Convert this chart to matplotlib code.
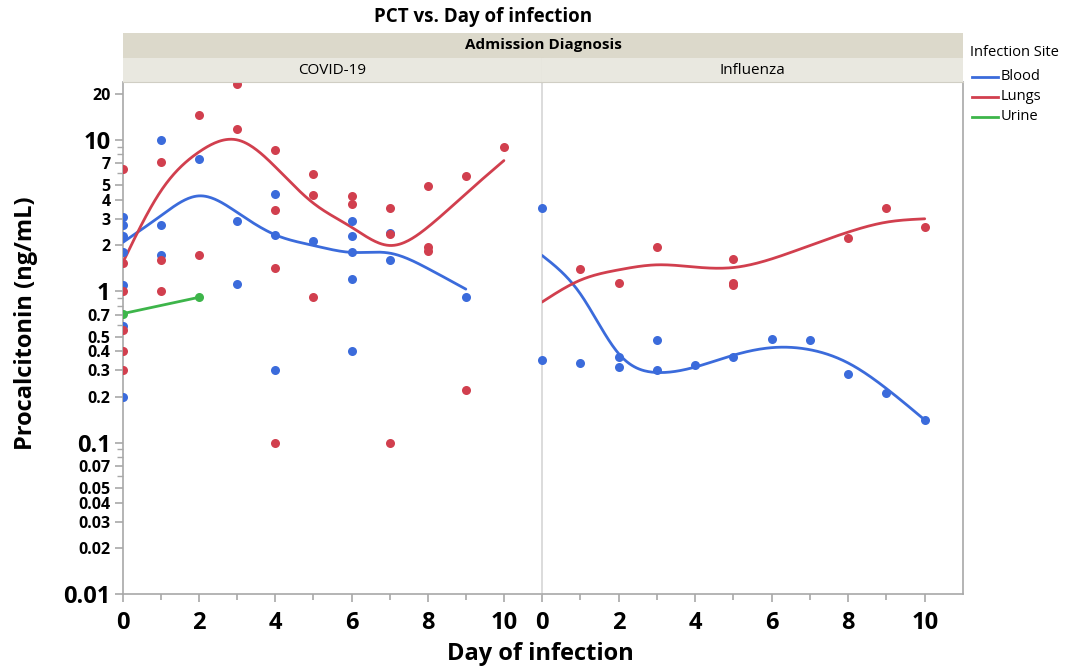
import numpy as np
import matplotlib
matplotlib.use("Agg")
import matplotlib.pyplot as plt
from matplotlib.ticker import FixedLocator, NullFormatter

# ---------------- data ----------------
# COVID-19 observations (day, PCT)
covid_blood_day = [0, 0, 0, 0, 0, 0, 0, 1, 1, 1, 2, 3, 3, 4, 4, 4, 5, 6, 6, 6, 6, 6, 7, 7, 9]
covid_blood_pct = [3.1, 2.75, 2.3, 1.8, 1.09, 0.59, 0.2, 10.0, 2.75, 1.72, 7.5, 2.92, 1.11,
                   4.34, 2.33, 0.303, 2.13, 2.92, 2.32, 1.8, 1.21, 0.405, 2.43, 1.61, 0.91]
covid_lungs_day = [0, 0, 0, 0, 0, 0, 1, 1, 1, 2, 2, 3, 3, 4, 4, 4, 4, 5, 5, 5, 6, 6,
                   7, 7, 7, 8, 8, 8, 9, 9, 10]
covid_lungs_pct = [6.35, 1.53, 1.0, 0.557, 0.405, 0.303, 7.16, 1.61, 1.0, 14.6, 1.72, 23.3, 11.7,
                   8.6, 3.44, 1.43, 0.1, 5.94, 4.32, 0.91, 4.23, 3.75,
                   3.53, 2.38, 0.1, 4.95, 1.95, 1.83, 5.76, 0.222, 8.95]
covid_urine_day = [0, 2]
covid_urine_pct = [0.71, 0.91]

# Influenza observations
flu_blood_day = [0, 0, 1, 2, 2, 3, 3, 4, 5, 6, 7, 8, 9, 10]
flu_blood_pct = [3.56, 0.353, 0.334, 0.365, 0.313, 0.473, 0.303, 0.324, 0.365, 0.483, 0.473,
                 0.282, 0.212, 0.141]
flu_lungs_day = [1, 2, 3, 5, 5, 5, 8, 9, 10]
flu_lungs_pct = [1.39, 1.13, 1.95, 1.63, 1.13, 1.09, 2.24, 3.51, 2.66]

# Smoother curve values read at integer days
covid_blood_fit_day = [0, 1, 2, 3, 4, 5, 6, 7, 8, 9]
covid_blood_fit = [2.1, 3.15, 4.25, 3.3, 2.35, 2.0, 1.8, 1.78, 1.41, 1.03]
covid_lungs_fit_day = [0, 1, 2, 3, 4, 5, 6, 7, 8, 9, 10]
covid_lungs_fit = [1.55, 4.6, 8.3, 9.95, 6.6, 3.8, 2.64, 2.0, 2.64, 4.39, 7.27]
flu_blood_fit_day = [0, 1, 2, 3, 4, 5, 6, 7, 8, 9, 10]
flu_blood_fit = [1.72, 0.96, 0.387, 0.29, 0.315, 0.377, 0.423, 0.41, 0.335, 0.227, 0.141]
flu_lungs_fit_day = [0, 1, 2, 3, 4, 5, 6, 7, 8, 9, 10]
flu_lungs_fit = [0.846, 1.18, 1.38, 1.49, 1.44, 1.43, 1.63, 2.0, 2.45, 2.85, 3.0]

site_names = ["Blood", "Lungs", "Urine"]
site_colors = ["#3b6bdb", "#d13f4e", "#3db54a"]

y_major = [0.01, 0.02, 0.03, 0.04, 0.05, 0.07, 0.1, 0.2, 0.3, 0.4, 0.5, 0.7, 1, 2, 3, 4, 5, 7, 10, 20]
y_labels = ["0.01", "0.02", "0.03", "0.04", "0.05", "0.07", "0.1", "0.2", "0.3", "0.4", "0.5",
            "0.7", "1", "2", "3", "4", "5", "7", "10", "20"]
big_labels = {"0.01", "0.1", "1", "10"}


def natural_spline(xk, yk, n=300):
    xk = np.asarray(xk, float)
    yk = np.asarray(yk, float)
    m = len(xk)
    h = np.diff(xk)
    A = np.zeros((m, m))
    b = np.zeros(m)
    A[0, 0] = 1
    A[-1, -1] = 1
    for i in range(1, m - 1):
        A[i, i - 1] = h[i - 1]
        A[i, i] = 2 * (h[i - 1] + h[i])
        A[i, i + 1] = h[i]
        b[i] = 6 * ((yk[i + 1] - yk[i]) / h[i] - (yk[i] - yk[i - 1]) / h[i - 1])
    M = np.linalg.solve(A, b)
    xs = np.linspace(xk[0], xk[-1], n)
    idx = np.clip(np.searchsorted(xk, xs) - 1, 0, m - 2)
    x0, x1 = xk[idx], xk[idx + 1]
    hh = x1 - x0
    t0 = x1 - xs
    t1 = xs - x0
    ys = (M[idx] * t0 ** 3 / (6 * hh) + M[idx + 1] * t1 ** 3 / (6 * hh)
          + (yk[idx] / hh - M[idx] * hh / 6) * t0 + (yk[idx + 1] / hh - M[idx + 1] * hh / 6) * t1)
    return xs, ys


def smooth(ax, days, vals, color):
    xs, ys = natural_spline(days, np.log10(vals))
    ax.plot(xs, 10 ** ys, color=color, lw=2.0, solid_capstyle="round", zorder=3)


W, H = 1066, 667
fig = plt.figure(figsize=(W / 100, H / 100), dpi=100)
FONT = "Open Sans"
plt.rcParams["font.family"] = [FONT, "DejaVu Sans"]


def fx(px):
    return px / W


def fy(py):
    return 1 - py / H


L, MID, R, TOP, BOT = 123, 542, 963, 82, 594
ax1 = fig.add_axes([fx(L), fy(BOT), fx(MID - L), fy(TOP) - fy(BOT)])
ax2 = fig.add_axes([fx(MID), fy(BOT), fx(R - MID), fy(TOP) - fy(BOT)])

axis_gray = "#a8a8a8"
for i, ax in enumerate((ax1, ax2)):
    ax.set_yscale("log")
    ax.set_ylim(0.01, 24)
    ax.set_xlim(0, 11)
    ax.spines["top"].set_visible(False)
    ax.spines["bottom"].set_color(axis_gray)
    ax.spines["left"].set_color(axis_gray if i == 0 else "#d6d6d6")
    ax.spines["right"].set_color(axis_gray)
    ax.spines["right"].set_visible(i == 1)
    for s in ax.spines.values():
        s.set_linewidth(1.2)
    ax.set_xticks([0, 2, 4, 6, 8, 10])
    ax.set_xticks([1, 3, 5, 7, 9], minor=True)
    ax.set_xticklabels(["0", "2", "4", "6", "8", "10"], fontsize=17, fontweight="bold")
    ax.tick_params(axis="x", which="major", length=6, color=axis_gray, width=1.2, pad=6)
    ax.tick_params(axis="x", which="minor", length=4, color=axis_gray, width=1.2)
    ax.set_facecolor("white")

# y axis on first panel
ax1.yaxis.set_major_locator(FixedLocator(y_major))
minor = [m * 10.0 ** e for e in (-2, -1, 0, 1) for m in range(2, 10)]
ax1.yaxis.set_minor_locator(FixedLocator([v for v in minor if v not in y_major]))
ax1.yaxis.set_minor_formatter(NullFormatter())
ax1.set_yticklabels(y_labels)
for t, lab in zip(ax1.get_yticklabels(), y_labels):
    t.set_fontweight("bold")
    t.set_fontsize(17 if lab in big_labels else 11.5)
ax1.tick_params(axis="y", which="major", length=6, color=axis_gray, width=1.2, pad=3)
ax1.tick_params(axis="y", which="minor", length=4, color=axis_gray, width=1.0)
ax2.tick_params(axis="y", which="both", left=False, labelleft=False)
ax2.yaxis.set_minor_locator(FixedLocator([]))

# data
ms = 6.5
ax1.plot(covid_blood_day, covid_blood_pct, "o", ms=ms, color=site_colors[0], mec="none", zorder=4)
ax1.plot(covid_lungs_day, covid_lungs_pct, "o", ms=ms, color=site_colors[1], mec="none", zorder=4)
smooth(ax1, covid_blood_fit_day, covid_blood_fit, site_colors[0])
smooth(ax1, covid_lungs_fit_day, covid_lungs_fit, site_colors[1])
ax1.plot(covid_urine_day, covid_urine_pct, "-o", ms=ms, lw=2.0, color=site_colors[2], mec="none", zorder=4)

ax2.plot(flu_blood_day, flu_blood_pct, "o", ms=ms, color=site_colors[0], mec="none", zorder=4, clip_on=False)
ax2.plot(flu_lungs_day, flu_lungs_pct, "o", ms=ms, color=site_colors[1], mec="none", zorder=4, clip_on=False)
smooth(ax2, flu_blood_fit_day, flu_blood_fit, site_colors[0])
smooth(ax2, flu_lungs_fit_day, flu_lungs_fit, site_colors[1])

# strips
outer = fig.add_axes([fx(L), fy(58), fx(R - L), fy(33) - fy(58)])
outer.set_facecolor("#dcd9cb")
outer.set_xticks([]); outer.set_yticks([])
for s in outer.spines.values():
    s.set_visible(False)
outer.text(0.5, 0.5, "Admission Diagnosis", ha="center", va="center", fontsize=11,
           fontweight="bold", transform=outer.transAxes)
for (a, b_, name) in ((L, MID, "COVID-19"), (MID, R, "Influenza")):
    st = fig.add_axes([fx(a), fy(82), fx(b_ - a), fy(58) - fy(82)])
    st.set_facecolor("#e9e8e0")
    st.set_xticks([]); st.set_yticks([])
    for s in st.spines.values():
        s.set_visible(False)
    st.spines["right"].set_visible(name == "COVID-19")
    st.spines["right"].set_color("#d0cec4")
    st.spines["bottom"].set_visible(True)
    st.spines["bottom"].set_color("#d0cec4")
    st.text(0.5, 0.5, name, ha="center", va="center", fontsize=11, transform=st.transAxes)

# titles / labels
fig.text(fx(483), fy(17), "PCT vs. Day of infection", ha="center", va="center",
         fontsize=13.5, fontweight="bold")
fig.text(fx(540), fy(654), "Day of infection", ha="center", va="center", fontsize=17,
         fontweight="bold")
fig.text(fx(26), fy(323), "Procalcitonin (ng/mL)", ha="center", va="center", rotation=90,
         fontsize=17, fontweight="bold")

# legend
fig.text(fx(970), fy(52), "Infection Site", ha="left", va="center", fontsize=10.5)
for k, (name, col) in enumerate(zip(site_names, site_colors)):
    yy = 77 + 20 * k
    fig.add_artist(plt.Line2D([fx(972), fx(998)], [fy(yy), fy(yy)], color=col, lw=2.0))
    fig.text(fx(1001), fy(yy), name, ha="left", va="center", fontsize=10.5)

fig.savefig("out.png", dpi=100)
